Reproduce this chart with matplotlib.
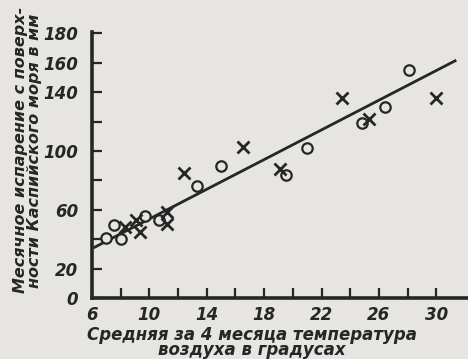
import numpy as np
import matplotlib
matplotlib.use("Agg")
import matplotlib.pyplot as plt

# points
circle_t = [7.0, 7.5, 8.0, 9.7, 10.7, 13.3, 15.0, 19.5, 21.0, 24.8, 26.4, 28.1]
circle_e = [41, 49.5, 40, 55.5, 53, 76, 89.5, 83.5, 102, 119, 130, 155]
cross_t = [8.3, 9.1, 9.35, 11.25, 11.25, 12.4, 16.5, 19.1, 23.4, 25.3, 30.0]
cross_e = [48, 53, 45, 58.5, 50.5, 85, 102.5, 87.5, 136, 122, 136]

# regression line (end points)
line_t = [6.1, 31.4]
line_e = [34.1, 161.8]

xticks = np.arange(6, 31, 2)
xlabels = [str(v) if v in (6, 10, 14, 18, 22, 26, 30) else '' for v in xticks]
yticks = np.arange(0, 181, 20)
ylabels = [str(v) if v in (0, 20, 60, 100, 140, 160, 180) else '' for v in yticks]

ink = '#262626'
paper = '#e7e5e2'

plt.rcParams['font.family'] = ['DejaVu Sans']
plt.rcParams['font.style'] = 'italic'
plt.rcParams['font.weight'] = 'bold'

fig = plt.figure(figsize=(4.68, 3.59), dpi=100, facecolor=paper)
ax = fig.add_axes([0.1966, 0.170, 0.803, 0.741])
ax.set_facecolor(paper)

ax.plot(line_t, line_e, color=ink, lw=2.0, solid_capstyle='butt')
ax.plot(circle_t, circle_e, 'o', ms=7.5, mfc=paper, mec=ink, mew=1.6)
ax.plot(cross_t, cross_e, 'x', ms=8, mec=ink, mew=2.0)

ax.set_xlim(6, 32.2)
ax.set_ylim(0, 181)
for s in ['top', 'right']:
    ax.spines[s].set_visible(False)
for s in ['left', 'bottom']:
    ax.spines[s].set_linewidth(2.6)
    ax.spines[s].set_color(ink)

ax.set_xticks(xticks)
ax.set_xticklabels(xlabels)
ax.set_yticks(yticks)
ax.set_yticklabels(ylabels)
ax.tick_params(direction='in', length=7, width=1.6, color=ink, labelcolor=ink,
               labelsize=12)
ax.tick_params(axis='x', pad=6)
ax.tick_params(axis='y', pad=10)

ax.set_xlabel('Средняя за 4 месяца температура\nвоздуха в градусах',
              fontsize=12, fontweight='bold', color=ink, linespacing=0.8)
ax.xaxis.set_label_coords(0.426, -0.104)
ax.set_ylabel('Месячное испарение с поверх-\nности Каспийского моря в мм',
              fontsize=11.5, fontweight='bold', color=ink, linespacing=0.9)
ax.yaxis.set_label_coords(-0.133, 0.555)

fig.savefig('out.png', dpi=100, facecolor=paper)
